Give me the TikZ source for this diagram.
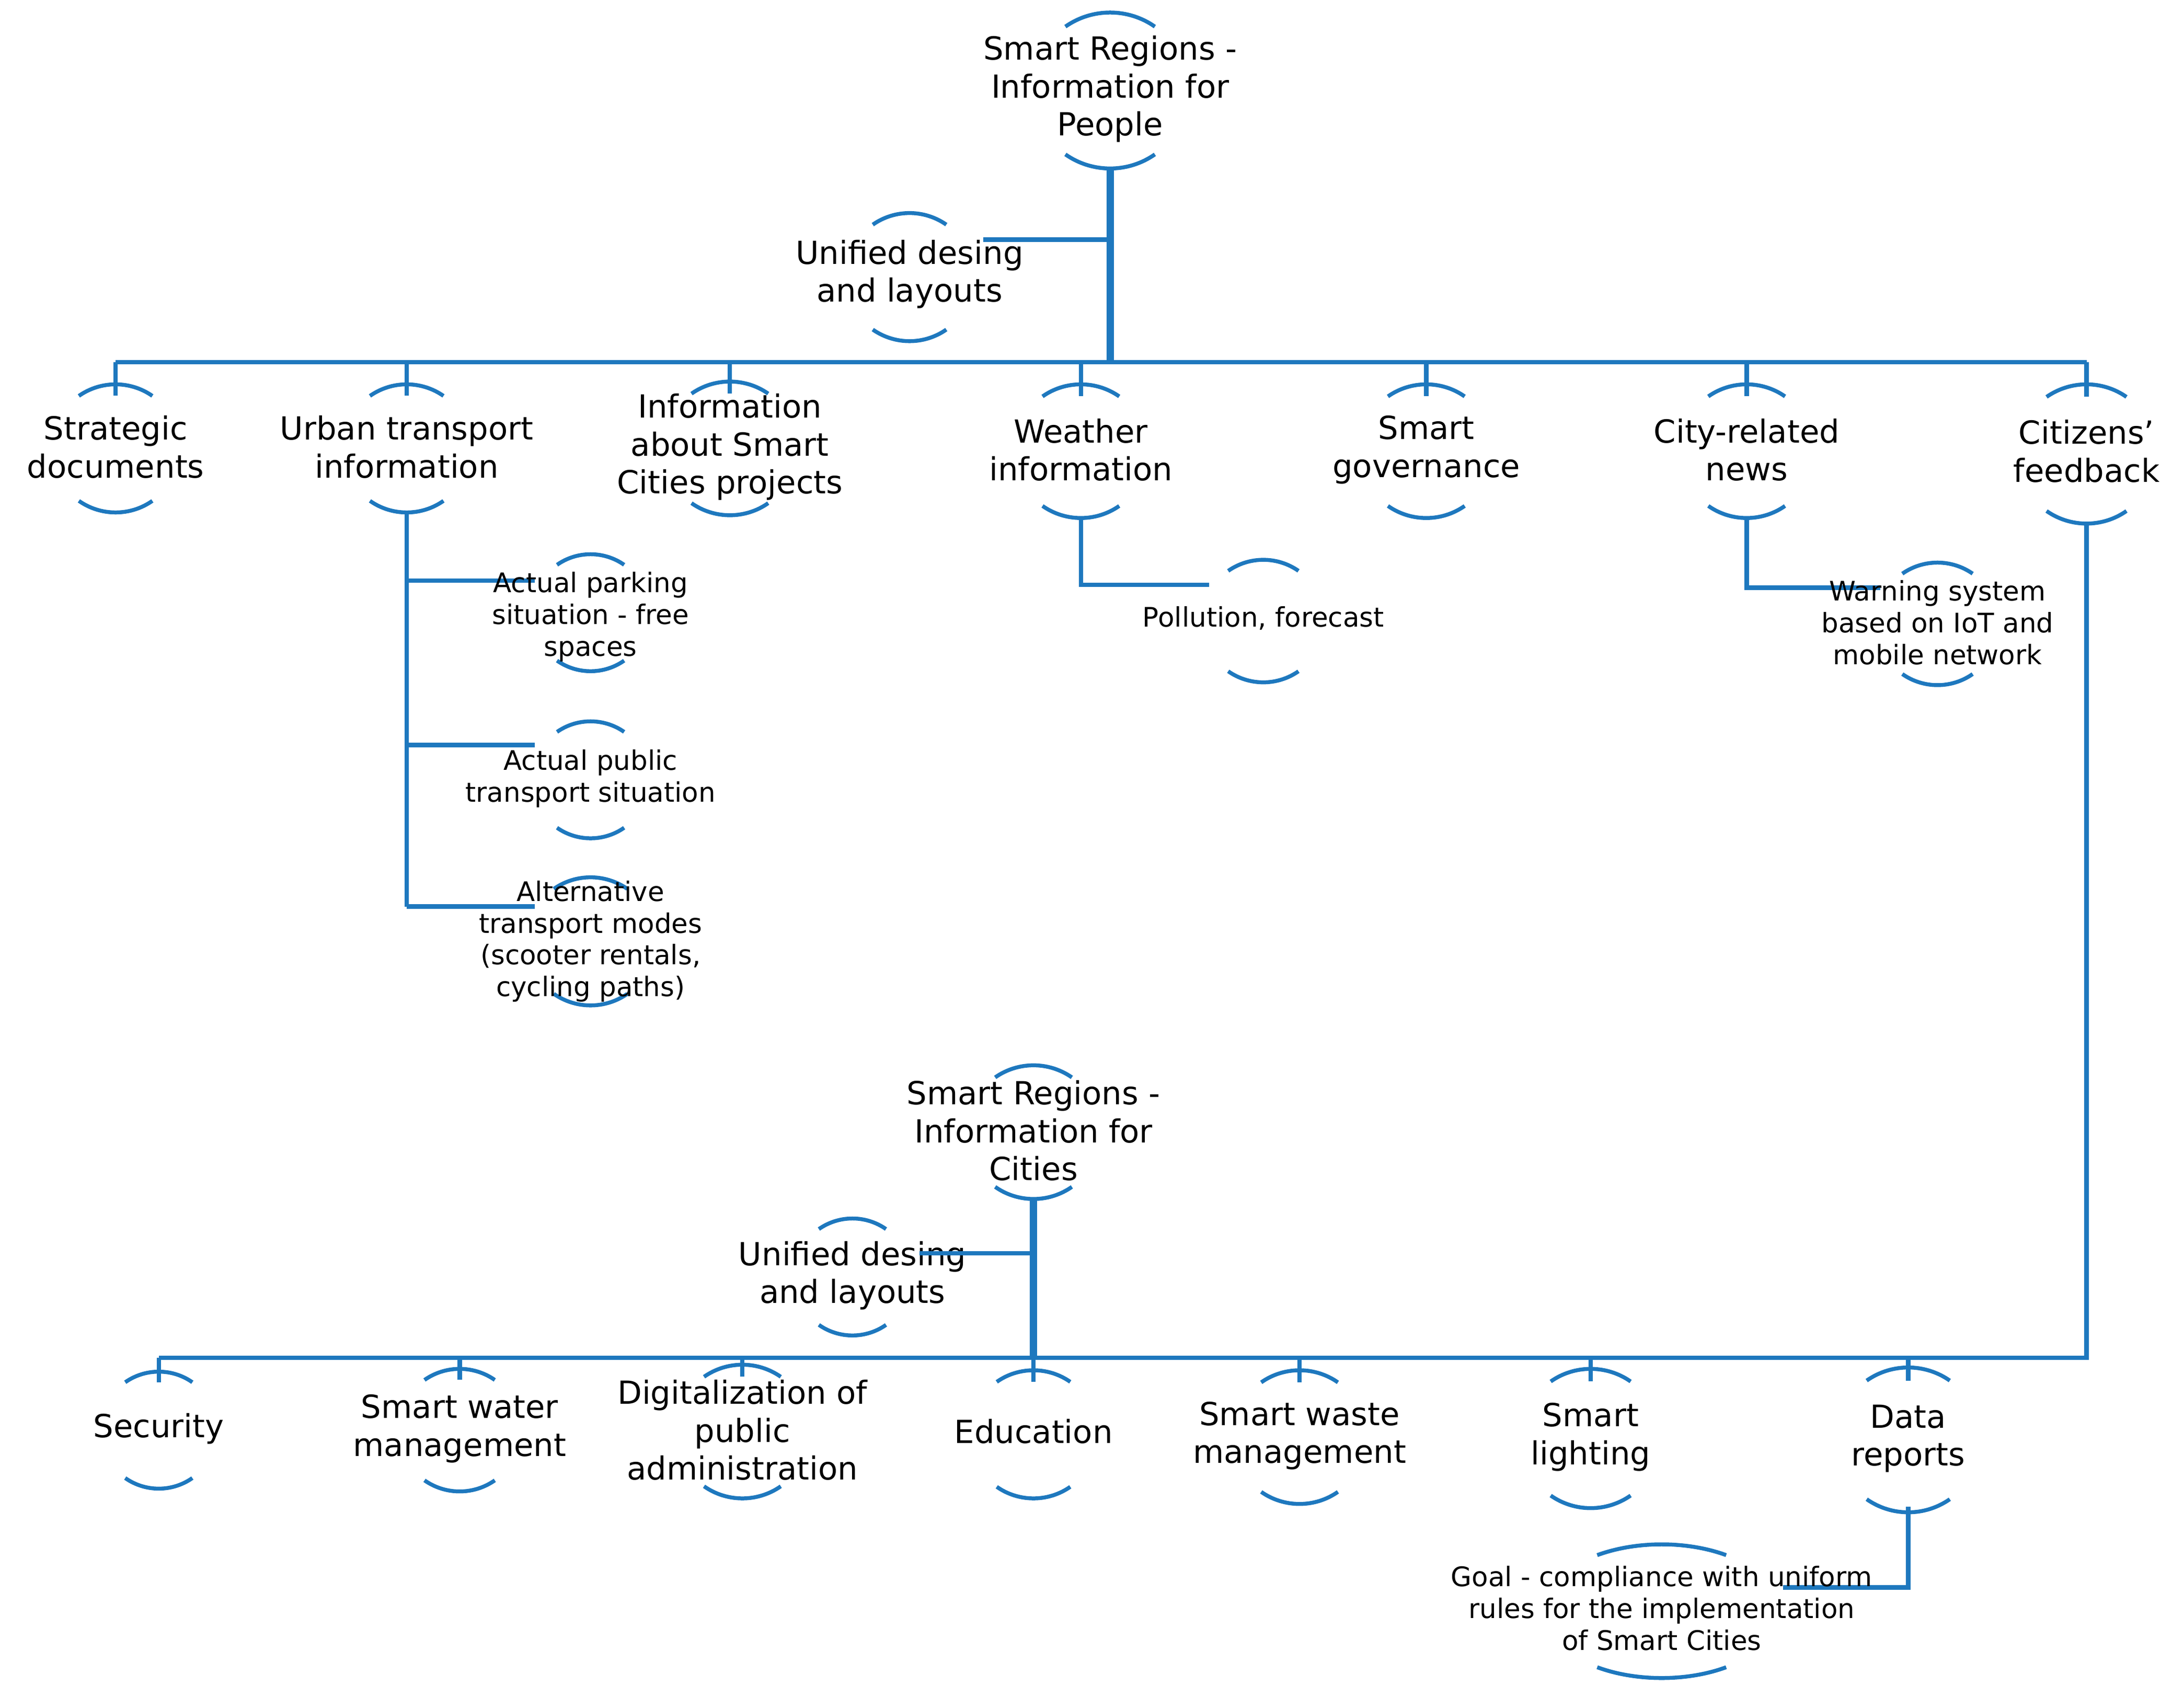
\documentclass[tikz,border=0pt]{standalone}
\usepackage{fontspec}
\setmainfont{DejaVu Sans}
\definecolor{blu}{RGB}{30,120,190}
\begin{document}
\begin{tikzpicture}[x=0.02cm,y=-0.02cm,
 arc/.style={draw=blu,line width=1.6pt},
 ln/.style={draw=blu,line width=1.8pt},
 thick ln/.style={draw=blu,line width=3pt},
 big/.style={align=center,font=\fontsize{13}{15.5}\selectfont,inner sep=0pt},
 sml/.style={align=center,font=\fontsize{11}{13}\selectfont,inner sep=0pt}]
\useasboundingbox (0,0) rectangle (1568,1219);
\newcommand\myring[4][]{%
 \draw[arc] (#2,#3) ++(235:#4) arc[start angle=235,end angle=305,radius=#4];
 \draw[arc] (#2,#3) ++(55:#4) arc[start angle=55,end angle=125,radius=#4];}
% top part
\myring{797}{65}{56}
\node[big] (top) at (797,64) {Smart Regions -\\Information for\\People};
\myring{653}{199}{46}
\node[big] (u1) at (653,197) {Unified desing\\and layouts};
\draw[thick ln] (797,121) -- (797,260);
\draw[ln] (706,172) -- (797,172);
\draw[ln] (83,260) -- (1498,260);
\foreach \x/\y/\r in {83/322/46,292/322/46,524/322/48,776/324/48,1024/324/48,1254/324/48,1498/326/50}{
 \myring{\x}{\y}{\r}
 \pgfmathsetmacro\t{\y-0.82*\r}
 \draw[ln] (\x,260) -- (\x,\t);}
\node[big] (s1) at (83,321) {Strategic\\documents};
\node[big] (s2) at (292,321) {Urban transport\\information};
\node[big] (s3) at (524,321) {Information\\about Smart\\Cities projects};
\node[big] (s4) at (776,323) {Weather\\information};
\node[big] (s5) at (1024,323) {Smart\\governance};
\node[big] (s6) at (1254,323) {City-related\\news};
\node[big] (s7) at (1498,324) {Citizens'\\feedback};
% urban children
\draw[ln] (292,368) -- (292,651);
\draw[ln] (292,417) -- (384,417);
\draw[ln] (292,535) -- (384,535);
\draw[ln] (292,651) -- (384,651);
\myring{424}{440}{42}
\node[sml] (c1) at (424,443) {Actual parking\\situation - free\\spaces};
\myring{424}{560}{42}
\node[sml] (c2) at (424,559) {Actual public\\transport situation};
\myring{424}{676}{46}
\node[sml] (c3) at (424,676) {Alternative\\transport modes\\(scooter rentals,\\cycling paths)};
\draw[ln] (776,372) -- (776,420) -- (868,420);
\myring{907}{446}{44}
\node[sml] (p1) at (907,444) {Pollution, forecast};
\draw[ln] (1254,372) -- (1254,422) -- (1350,422);
\myring{1391}{448}{44}
\node[sml] (w1) at (1391,447) {Warning system\\based on IoT and\\mobile network};
\draw[ln] (1498,376) -- (1498,975) -- (742,975);
% bottom part
\myring{742}{813}{48}
\node[big] (bt) at (742,812) {Smart Regions -\\Information for\\Cities};
\myring{612}{917}{42}
\node[big] (u2) at (612,916) {Unified desing\\and layouts};
\draw[thick ln] (742,860) -- (742,975);
\draw[ln] (660,900) -- (742,900);
\draw[ln] (114,975) -- (742,975);
\foreach \x/\y/\r in {114/1027/42,330/1027/44,533/1028/48,742/1030/46,933/1032/48,1142/1033/50,1370/1034/52}{
 \myring{\x}{\y}{\r}
 \pgfmathsetmacro\t{\y-0.82*\r}
 \draw[ln] (\x,975) -- (\x,\t);}
\node[big] (b1) at (114,1026) {Security};
\node[big] (b2) at (330,1026) {Smart water\\management};
\node[big] (b3) at (533,1027) {Digitalization of\\public\\administration};
\node[big] (b4) at (742,1028) {Education};
\node[big] (b5) at (933,1031) {Smart waste\\management};
\node[big] (b6) at (1142,1032) {Smart\\lighting};
\node[big] (b7) at (1370,1033) {Data\\reports};
\draw[arc] (1193,1157) ++(237:85 and 48) arc[start angle=237,end angle=303,x radius=85,y radius=48];
\draw[arc] (1193,1157) ++(57:85 and 48) arc[start angle=57,end angle=123,x radius=85,y radius=48];
\draw[ln] (1370,1082) -- (1370,1140) -- (1280,1140);
\node[sml] (g1) at (1193,1155) {Goal - compliance with uniform\\rules for the implementation\\of Smart Cities};
\end{tikzpicture}
\end{document}
